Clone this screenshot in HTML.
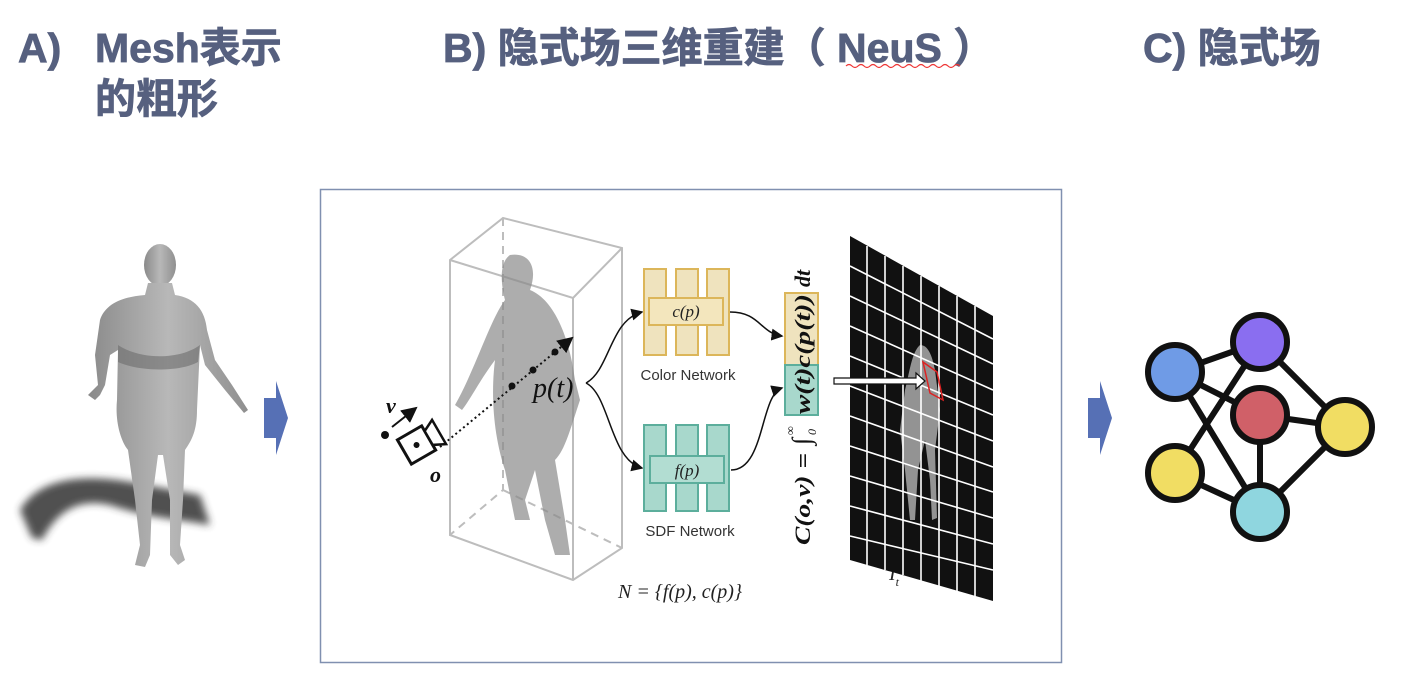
<!DOCTYPE html>
<html><head><meta charset="utf-8"><style>
html,body{margin:0;padding:0;background:#fff;}
svg{display:block}
</style></head><body>
<svg width="1404" height="684" viewBox="0 0 1404 684" xmlns="http://www.w3.org/2000/svg">
<defs>
<filter id="blur" x="-20%" y="-20%" width="140%" height="140%"><feGaussianBlur stdDeviation="4"/></filter>
<linearGradient id="skin" x1="0" x2="1"><stop offset="0" stop-color="#8a8a8a"/><stop offset="0.5" stop-color="#b8b8b8"/><stop offset="1" stop-color="#8f8f8f"/></linearGradient>
<marker id="ah" markerWidth="8" markerHeight="8" refX="7" refY="4" orient="auto"><path d="M0,0 L8,4 L0,8 z" fill="#111"/></marker>
</defs>
<g font-family="'Liberation Sans','Noto Sans CJK SC',sans-serif" font-weight="bold" fill="#56607f" font-size="41" stroke="#56607f" stroke-width="0.8">
<text x="18" y="62">A)</text>
<text x="95" y="62">Mesh表示</text>
<text x="95" y="113">的粗形</text>
<text x="443" y="62">B) 隐式场三维重建（ NeuS ）</text>
<text x="1143" y="62">C) 隐式场</text>
</g>
<path d="M846,66 q3,-3 6,0 t6,0 t6,0 t6,0 t6,0 t6,0 t6,0 t6,0 t6,0 t6,0 t6,0 t6,0 t6,0 t6,0 t6,0 t6,0 t6,0 t6,0 t6,0" stroke="#e33" fill="none" stroke-width="1.2"/>

<!-- left figure -->
<path d="M20,510 C40,475 90,475 130,482 L200,495 L210,525 C170,518 150,518 110,505 C75,497 55,515 42,540 L32,538 Z" fill="#333" filter="url(#blur)" opacity="0.85"/>
<g fill="url(#skin)">
<ellipse cx="160" cy="265" rx="16" ry="21"/>
<path d="M148,283 L172,283 L175,295 C195,298 205,310 207,330 L215,360 L232,385 L248,410 L244,413 L225,390 L205,365 L200,345 L197,410 C197,430 192,440 185,450 L183,500 L180,545 L185,560 L178,565 L170,555 L170,500 L163,455 L158,455 L152,500 L150,555 L145,567 L135,565 L140,545 L135,500 L128,450 C120,440 115,420 117,400 L118,350 L110,355 L105,385 L100,395 L95,400 L88,395 L98,385 L95,355 L100,320 C105,305 120,297 145,295 Z"/>
</g>
<path d="M118,345 C140,360 180,360 200,345 L198,362 C180,372 140,372 118,362 Z" fill="#6c6c6c" opacity="0.6"/>
<!-- arrows -->
<path d="M264,398 L276,398 L276,381 L288,418 L276,455 L276,438 L264,438 Z" fill="#5670b5"/>
<path d="M1088,398 L1100,398 L1100,381 L1112,418 L1100,455 L1100,438 L1088,438 Z" fill="#5670b5"/>

<!-- diagram box -->
<rect x="320.5" y="189.5" width="741" height="473" fill="#fff" stroke="#8090b0" stroke-width="1.5"/>
<!-- cube -->
<g stroke="#bdbdbd" stroke-width="2" fill="none">
<path d="M450,260 L503,218 L622,248 L622,548 L573,580 L450,535 Z"/>
<path d="M450,260 L573,298 L622,248 M573,298 L573,580"/>
<path d="M503,218 L503,490 L450,535 M503,490 L622,548" stroke-dasharray="8,6"/>
</g>
<path d="M510,255 C530,252 538,268 530,290 C555,300 570,340 575,380 L580,400 C570,430 565,450 555,460 L565,520 L570,555 L555,555 L545,520 L535,470 L525,500 L530,520 L515,520 L505,470 C495,440 490,400 495,360 C480,380 470,400 462,410 L455,405 C475,370 490,320 505,300 C500,280 500,262 510,255 Z" fill="#8a8a8a" opacity="0.7"/>
<!-- ray -->
<line x1="440" y1="447" x2="572" y2="338" stroke="#111" stroke-width="2" stroke-dasharray="2,3" marker-end="url(#ah)"/>
<circle cx="555" cy="352" r="3.5" fill="#111"/><circle cx="533" cy="370" r="3.5" fill="#111"/><circle cx="512" cy="386" r="3.5" fill="#111"/>
<!-- camera -->
<g transform="translate(420,443) rotate(-30)">
<rect x="-18" y="-14" width="28" height="28" fill="#fff" stroke="#111" stroke-width="3"/>
<path d="M10,-8 L22,-14 L22,14 L10,8 Z" fill="#fff" stroke="#111" stroke-width="2.5"/>
<circle cx="-4" cy="0" r="3" fill="#111"/>
</g>
<circle cx="385" cy="435" r="4" fill="#111"/>
<line x1="392" y1="427" x2="416" y2="408" stroke="#111" stroke-width="2" marker-end="url(#ah)"/>
<g font-family="'Liberation Serif',serif" font-style="italic" fill="#111">
<text x="386" y="413" font-size="22" font-weight="bold">v</text>
<text x="430" y="482" font-size="22" font-weight="bold">o</text>
<text x="533" y="397" font-size="28">p(t)</text>
</g>
<!-- branches -->
<path d="M586,383 C610,370 610,320 642,312" stroke="#111" fill="none" stroke-width="1.5" marker-end="url(#ah)"/>
<path d="M586,383 C610,395 610,460 642,468" stroke="#111" fill="none" stroke-width="1.5" marker-end="url(#ah)"/>
<!-- color net -->
<g fill="#efe3be" stroke="#dcb65a" stroke-width="2">
<rect x="644" y="269" width="22" height="86"/><rect x="676" y="269" width="22" height="86"/><rect x="707" y="269" width="22" height="86"/>
<rect x="649" y="298" width="74" height="27" fill="#f3e6bd"/>
</g>
<g fill="#a8d8cc" stroke="#5cae9c" stroke-width="2">
<rect x="644" y="425" width="22" height="86"/><rect x="676" y="425" width="22" height="86"/><rect x="707" y="425" width="22" height="86"/>
<rect x="650" y="456" width="74" height="27" fill="#b2ddd2"/>
</g>
<g font-family="'Liberation Serif',serif" font-style="italic" fill="#222" font-size="17" text-anchor="middle">
<text x="686" y="317">c(p)</text>
<text x="687" y="476">f(p)</text>
<text x="680" y="598" font-size="20">N = {f(p), c(p)}</text>
<text x="897" y="580" font-size="20">I<tspan font-size="12" dy="6">t</tspan><tspan font-size="12" dy="-14">i′</tspan></text>
</g>
<g font-family="'Liberation Sans',sans-serif" fill="#333" font-size="15" text-anchor="middle">
<text x="688" y="380">Color Network</text>
<text x="690" y="536">SDF Network</text>
</g>
<path d="M730,312 C760,312 760,333 782,336" stroke="#111" fill="none" stroke-width="1.5" marker-end="url(#ah)"/>
<path d="M731,470 C765,470 760,395 782,388" stroke="#111" fill="none" stroke-width="1.5" marker-end="url(#ah)"/>
<rect x="785" y="293" width="33" height="72" fill="#efe3be" stroke="#dcb65a" stroke-width="2"/>
<rect x="785" y="365" width="33" height="50" fill="#a8d8cc" stroke="#5cae9c" stroke-width="2"/>
<g transform="translate(810,545) rotate(-90)" font-family="'Liberation Serif',serif" font-style="italic" font-weight="bold" font-size="22" fill="#111">
<text x="0" y="0" textLength="92" lengthAdjust="spacingAndGlyphs">C(o,v) =</text>
<text x="100" y="0" font-size="26" font-weight="normal">∫</text>
<text x="110" y="6" font-size="12" font-weight="normal">0</text>
<text x="110" y="-16" font-size="12" font-weight="normal">∞</text>
<text x="131" y="0" textLength="120" lengthAdjust="spacingAndGlyphs">w(t)c(p(t))</text>
<text x="258" y="0">dt</text>
</g>
<!-- grid -->
<path d="M850,236 L993,316 L993,601 L850,560 Z" fill="#111"/>
<path d="M920,345 C912,352 910,370 905,390 L900,430 L905,470 L910,520 L915,520 L918,470 L925,440 L930,480 L932,520 L937,518 L935,450 L940,410 L935,370 C932,355 928,345 920,345 Z" fill="#aaa" opacity="0.85"/>
<g stroke="#fff" stroke-width="1.6">
<path d="M867,246 L867,565 M885,256 L885,570 M903,266 L903,575 M921,276 L921,581 M939,286 L939,586 M957,296 L957,591 M975,306 L975,596"/>
<path d="M850,266 L993,339 M850,296 L993,364 M850,326 L993,390 M850,356 L993,415 M850,386 L993,441 M850,416 L993,467 M850,446 L993,492 M850,476 L993,518 M850,506 L993,544 M850,536 L993,570"/>
</g>
<path d="M923,362 L937,372 L943,400 L930,393 Z" fill="none" stroke="#d22" stroke-width="1.5"/>
<path d="M834,378 L916,378 L916,373 L925,381 L916,389 L916,384 L834,384 Z" fill="#fff" stroke="#111" stroke-width="1.2"/>

<!-- graph -->
<g stroke="#111" stroke-width="6">
<line x1="1175" y1="372" x2="1260" y2="342"/>
<line x1="1175" y1="372" x2="1260" y2="415"/>
<line x1="1175" y1="372" x2="1260" y2="512"/>
<line x1="1260" y1="342" x2="1175" y2="473"/>
<line x1="1260" y1="342" x2="1345" y2="427"/>
<line x1="1260" y1="415" x2="1345" y2="427"/>
<line x1="1260" y1="415" x2="1260" y2="512"/>
<line x1="1175" y1="473" x2="1260" y2="512"/>
<line x1="1260" y1="512" x2="1345" y2="427"/>
</g>
<g stroke="#111" stroke-width="6">
<circle cx="1175" cy="372" r="27" fill="#6f9be6"/>
<circle cx="1260" cy="342" r="27" fill="#8a6ef0"/>
<circle cx="1260" cy="415" r="27" fill="#d06068"/>
<circle cx="1345" cy="427" r="27" fill="#f1dd63"/>
<circle cx="1175" cy="473" r="27" fill="#f1dd63"/>
<circle cx="1260" cy="512" r="27" fill="#8fd6df"/>
</g>
</svg>
</body></html>
